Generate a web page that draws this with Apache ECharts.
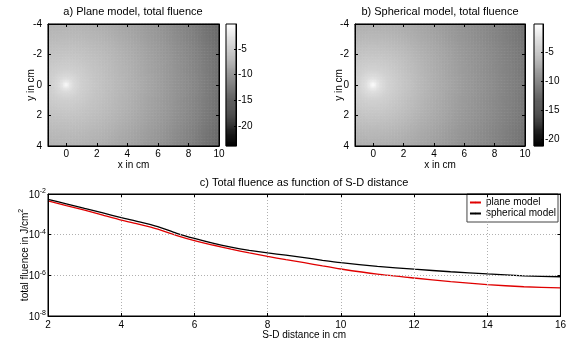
<!DOCTYPE html>
<html><head><meta charset="utf-8">
<script src="https://cdn.jsdelivr.net/npm/echarts@6/dist/echarts.min.js"></script>
<style>html,body{margin:0;padding:0;background:#fff}#c{width:569px;height:344px}</style>
</head><body><div id="c"></div>
<script>
// ---- data ----
// radial profiles of the fluence maps (distance from source in cm -> colour value)
const profileR      = [0, 0.25, 0.5, 1, 1.5, 2, 3, 4, 5, 6, 7, 8, 9, 10, 11];
const planeProfile  = [-0.5, -2.5, -3.6, -4.6, -5.1, -5.6, -6.4, -7.2, -8.1, -9.0, -9.9, -10.9, -12.0, -13.3, -14.5];
const sphereProfile = [-0.3, -2.0, -3.0, -4.0, -4.5, -5.0, -5.9, -6.8, -7.6, -8.4, -9.1, -9.8, -10.5, -11.3, -12.2];
const planeRange  = [-23.9, -0.1];
const sphereRange = [-21.2, -0.2];
const mapX = [-1.2, 10];
const mapY = [-4, 4];
// total fluence vs S-D distance
const sdDistance = [2, 2.5, 3, 3.5, 4, 4.5, 5, 5.5, 6, 6.5, 7, 7.5, 8, 8.5, 9, 9.5, 10, 11, 12, 13, 14, 15, 16];
const planeFluence  = [4.6e-3, 2.7e-3, 1.6e-3, 9.1e-4, 5.2e-4, 3.2e-4, 1.86e-4, 9.3e-5, 5.1e-5, 3.1e-5, 1.95e-5, 1.26e-5, 8.5e-6, 5.9e-6, 4.2e-6, 2.9e-6, 2.05e-6, 1.15e-6, 7.4e-7, 4.9e-7, 3.5e-7, 2.75e-7, 2.4e-7];
const sphereFluence = [5.5e-3, 3.3e-3, 1.95e-3, 1.17e-3, 6.9e-4, 4.3e-4, 2.5e-4, 1.2e-4, 6.5e-5, 3.8e-5, 2.45e-5, 1.7e-5, 1.26e-5, 9.8e-6, 7.4e-6, 5.5e-6, 4.2e-6, 2.75e-6, 2.0e-6, 1.5e-6, 1.17e-6, 9.5e-7, 8.5e-7];

// ---- build cells ----
const step = 0.1;
const xCells = [], yCells = [];
for (let x = mapX[0] + step / 2; x < mapX[1]; x += step) xCells.push(x.toFixed(2));
for (let y = mapY[0] + step / 2; y < mapY[1]; y += step) yCells.push(y.toFixed(2));
function profileAt(r, prof) {
  const n = profileR.length;
  if (r >= profileR[n - 1]) return prof[n - 1];
  for (let i = 0; i < n - 1; i++) {
    if (r < profileR[i + 1]) {
      const t = (r - profileR[i]) / (profileR[i + 1] - profileR[i]);
      return prof[i] + t * (prof[i + 1] - prof[i]);
    }
  }
}
function mapData(prof) {
  const d = [];
  for (let i = 0; i < xCells.length; i++)
    for (let j = 0; j < yCells.length; j++) {
      const r = Math.hypot(+xCells[i], +yCells[j]);
      d.push([i, j, profileAt(r, prof)]);
    }
  return d;
}
function barCells(range) {
  const n = 120, cats = [], d = [];
  for (let k = 0; k < n; k++) {
    const v = range[0] + (k + 0.5) * (range[1] - range[0]) / n;
    cats.push(v.toFixed(3)); d.push([0, k, v]);
  }
  return { cats, d };
}
const cbA = barCells(planeRange), cbB = barCells(sphereRange);

const FONT = 'Liberation Sans, Arial, sans-serif';
const tickStyle = { show: true, inside: true, length: 3, lineStyle: { color: '#000' } };
const lineSt = { show: true, onZero: false, lineStyle: { color: '#000', width: 1 } };
const lbl = (m) => ({ fontFamily: FONT, fontSize: 10, color: '#000', margin: m });
const hidden = (grid, data, extra) => Object.assign({ type: 'category', gridIndex: grid, data, show: false }, extra || {});
const tickOnly = (type, grid, pos, range, extra) => Object.assign({
  type, gridIndex: grid, position: pos, min: range[0], max: range[1], z: 5,
  axisLine: lineSt, axisTick: tickStyle, axisLabel: { show: false }, splitLine: { show: false }
}, extra || {});

function mapXAxis(grid) {
  return {
    type: 'value', gridIndex: grid, position: 'bottom', min: mapX[0], max: mapX[1], z: 5,
    axisLine: lineSt, axisTick: tickStyle, splitLine: { show: false },
    axisLabel: Object.assign(lbl(3), { showMinLabel: false }),
    name: 'x in cm', nameLocation: 'middle', nameGap: 14, nameMoveOverlap: false,
    nameTextStyle: { fontFamily: FONT, fontSize: 10, color: '#000', verticalAlign: 'top' }
  };
}
function mapYAxis(grid, gap) {
  return {
    type: 'value', gridIndex: grid, position: 'left', min: mapY[0], max: mapY[1], interval: 2, inverse: true, z: 5,
    axisLine: lineSt, axisTick: tickStyle, splitLine: { show: false }, axisLabel: lbl(6),
    name: 'y in cm', nameLocation: 'middle', nameGap: gap, nameRotate: 90, nameMoveOverlap: false,
    nameTextStyle: { fontFamily: FONT, fontSize: 10, color: '#000' }
  };
}
function cbAxis(grid, range) {
  return {
    type: 'value', gridIndex: grid, position: 'right', min: range[0], max: range[1], z: 5,
    axisLine: lineSt, axisTick: { show: true, inside: true, length: 2, lineStyle: { color: '#000' } },
    splitLine: { show: false },
    axisLabel: Object.assign(lbl(2), { showMinLabel: false, showMaxLabel: false })
  };
}
const supRich = {
  b: { fontFamily: FONT, fontSize: 10, color: '#000', lineHeight: 12, verticalAlign: 'bottom' },
  s: { fontFamily: FONT, fontSize: 7, color: '#000', lineHeight: 7, verticalAlign: 'top' }
};
const titleStyle = (text) => ({ text, font: '11px ' + FONT, fill: '#000', textAlign: 'center', textVerticalAlign: 'middle', verticalAlign: 'middle' });

const option = {
  animation: false,
  backgroundColor: '#fff',
  graphic: [
    { type: 'text', x: 133, y: 12, style: titleStyle('a) Plane model, total fluence') },
    { type: 'text', x: 440, y: 12, style: titleStyle('b) Spherical model, total fluence') },
    { type: 'text', x: 304, y: 183, style: titleStyle('c) Total fluence as function of S-D distance') }
  ],
  grid: [
    { left: 48, top: 24, width: 171, height: 122, show: true, borderColor: '#000', borderWidth: 1, z: 5 },
    { left: 226, top: 24, width: 10, height: 122, show: true, borderColor: '#000', borderWidth: 1, z: 5 },
    { left: 355, top: 24, width: 170, height: 122, show: true, borderColor: '#000', borderWidth: 1, z: 5 },
    { left: 534, top: 24, width: 9, height: 122, show: true, borderColor: '#000', borderWidth: 1, z: 5 },
    { left: 48, top: 194, width: 513, height: 122, show: true, borderColor: '#000', borderWidth: 1, z: 5 }
  ],
  xAxis: [
    hidden(0, xCells),                                   // 0
    mapXAxis(0),                                         // 1
    tickOnly('value', 0, 'top', mapX),                   // 2
    hidden(1, ['c']),                                    // 3
    hidden(2, xCells),                                   // 4
    mapXAxis(2),                                         // 5
    tickOnly('value', 2, 'top', mapX),                   // 6
    hidden(3, ['c']),                                    // 7
    {                                                    // 8
      type: 'value', gridIndex: 4, position: 'bottom', min: 2, max: 16, interval: 2, z: 5,
      axisLine: lineSt, axisTick: tickStyle, axisLabel: lbl(4),
      splitLine: { show: true, lineStyle: { color: '#b0b0b0', type: [1, 2] } },
      name: 'S-D distance in cm', nameLocation: 'middle', nameGap: 14, nameMoveOverlap: false,
      nameTextStyle: { fontFamily: FONT, fontSize: 10, color: '#000', verticalAlign: 'top' }
    },
    tickOnly('value', 4, 'top', [2, 16], { interval: 2 }) // 9
  ],
  yAxis: [
    hidden(0, yCells, { inverse: true }),                // 0
    mapYAxis(0, 12),                                     // 1
    tickOnly('value', 0, 'right', mapY, { interval: 2, inverse: true }), // 2
    hidden(1, cbA.cats),                                 // 3
    cbAxis(1, planeRange),                               // 4
    hidden(2, yCells, { inverse: true }),                // 5
    mapYAxis(2, 11),                                     // 6
    tickOnly('value', 2, 'right', mapY, { interval: 2, inverse: true }), // 7
    hidden(3, cbB.cats),                                 // 8
    cbAxis(3, sphereRange),                              // 9
    {                                                    // 10
      type: 'log', logBase: 10, gridIndex: 4, position: 'left', min: 1e-8, max: 1e-2, interval: 2, z: 5,
      axisLine: lineSt, axisTick: tickStyle, minorTick: { show: false },
      splitLine: { show: true, lineStyle: { color: '#b0b0b0', type: [1, 2] } },
      axisLabel: {
        margin: 2, rich: supRich,
        formatter: (v) => '{b|10}{s|' + Math.round(Math.log10(v)) + '}'
      },
      name: '{b|total fluence in J/cm}{s|2}', nameLocation: 'middle', nameGap: 18, nameRotate: 90, nameMoveOverlap: false,
      nameTextStyle: { rich: supRich }
    },
    tickOnly('log', 4, 'right', [1e-8, 1e-2], { interval: 2, logBase: 10 }) // 11
  ],
  visualMap: [
    { type: 'continuous', show: false, min: planeRange[0], max: planeRange[1], dimension: 2, seriesIndex: [0, 1], inRange: { color: ['#000000', '#ffffff'] } },
    { type: 'continuous', show: false, min: sphereRange[0], max: sphereRange[1], dimension: 2, seriesIndex: [2, 3], inRange: { color: ['#000000', '#ffffff'] } }
  ],
  legend: {
    data: ['plane model', 'spherical model'], orient: 'vertical', right: 11, top: 194,
    padding: [3, 2, 3, 2], itemGap: 0, itemWidth: 11, itemHeight: 2,
    backgroundColor: '#fff', borderColor: '#444', borderWidth: 1, borderRadius: 0,
    textStyle: { fontFamily: FONT, fontSize: 10, color: '#000', lineHeight: 11 }
  },
  series: [
    { type: 'heatmap', name: 'mapA', xAxisIndex: 0, yAxisIndex: 0, data: mapData(planeProfile), progressive: 0, emphasis: { disabled: true } },
    { type: 'heatmap', name: 'cbA', xAxisIndex: 3, yAxisIndex: 3, data: cbA.d, progressive: 0, emphasis: { disabled: true } },
    { type: 'heatmap', name: 'mapB', xAxisIndex: 4, yAxisIndex: 5, data: mapData(sphereProfile), progressive: 0, emphasis: { disabled: true } },
    { type: 'heatmap', name: 'cbB', xAxisIndex: 7, yAxisIndex: 8, data: cbB.d, progressive: 0, emphasis: { disabled: true } },
    { type: 'line', name: 'plane model', xAxisIndex: 8, yAxisIndex: 10, symbol: 'none', smooth: 0.2,
      lineStyle: { color: '#e00000', width: 1.3 }, itemStyle: { color: '#e00000' },
      data: sdDistance.map((x, i) => [x, planeFluence[i]]) },
    { type: 'line', name: 'spherical model', xAxisIndex: 8, yAxisIndex: 10, symbol: 'none', smooth: 0.2,
      lineStyle: { color: '#000', width: 1.3 }, itemStyle: { color: '#000' },
      data: sdDistance.map((x, i) => [x, sphereFluence[i]]) }
  ]
};
const chart = echarts.init(document.getElementById('c'), null, { renderer: 'canvas' });
chart.setOption(option);
</script></body></html>
